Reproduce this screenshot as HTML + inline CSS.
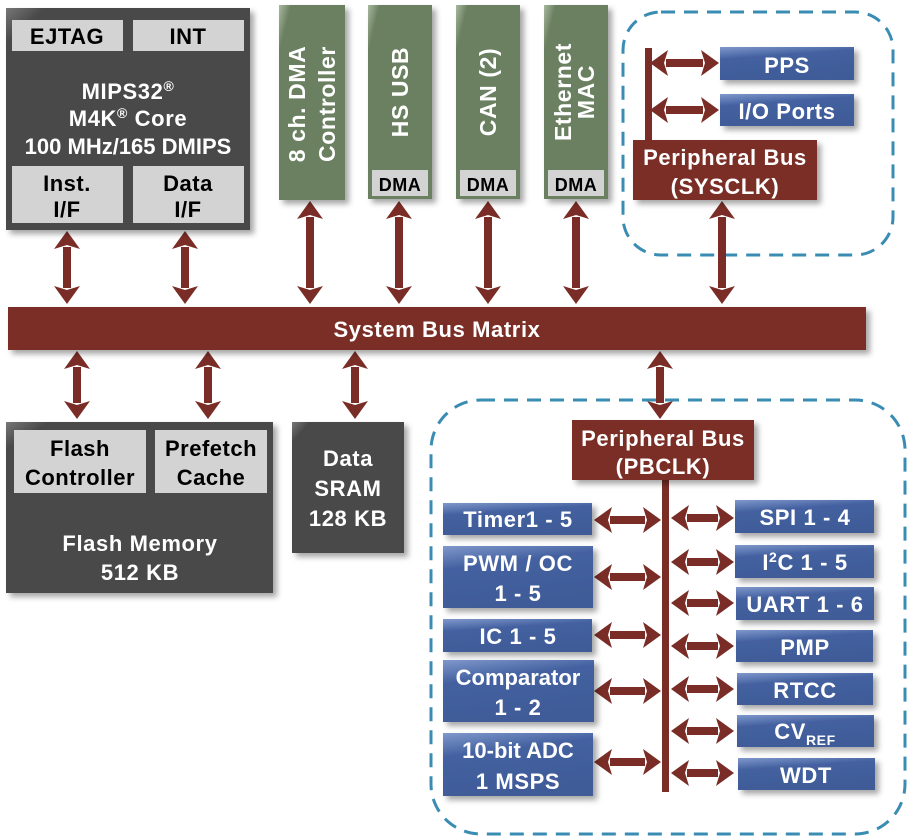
<!DOCTYPE html>
<html><head><meta charset="utf-8"><style>
html,body{margin:0;padding:0;background:#fff}
svg{display:block;font-family:"Liberation Sans",sans-serif;font-weight:bold}
</style></head><body>
<svg width="909" height="837" viewBox="0 0 909 837" xmlns="http://www.w3.org/2000/svg">
<defs>
<marker id="ah" viewBox="0 0 18 26" refX="2" refY="13" markerWidth="18" markerHeight="26" markerUnits="userSpaceOnUse" orient="auto-start-reverse">
<path d="M0,0 L18,13 L0,26 L4,13 Z" fill="#7a2d26"/>
</marker>
<linearGradient id="bl" x1="0" y1="0" x2="0.3" y2="1"><stop offset="0" stop-color="#7f98cc"/><stop offset="0.35" stop-color="#4461a0"/><stop offset="1" stop-color="#3f5b98"/></linearGradient>
<linearGradient id="gr" x1="0" y1="0" x2="0.4" y2="0.3"><stop offset="0" stop-color="#a9b9a0"/><stop offset="0.3" stop-color="#6b8060"/><stop offset="1" stop-color="#6b8060"/></linearGradient>
<linearGradient id="dk" x1="0" y1="0" x2="0.2" y2="0.2"><stop offset="0" stop-color="#777"/><stop offset="0.4" stop-color="#4a4a4a"/><stop offset="1" stop-color="#4a4a4a"/></linearGradient>
<filter id="sh" x="-10%" y="-10%" width="130%" height="130%"><feDropShadow dx="4" dy="4" stdDeviation="3" flood-color="#000" flood-opacity="0.35"/></filter>
</defs>

<rect x="623" y="12" width="270" height="243" rx="38" fill="none" stroke="#3a8cb3" stroke-width="3" stroke-dasharray="14,9"/>
<rect x="431" y="400" width="474" height="434" rx="50" fill="none" stroke="#3a8cb3" stroke-width="3" stroke-dasharray="14,9"/>

<g stroke="#7a2d26" stroke-width="8" marker-start="url(#ah)" marker-end="url(#ah)">
<line x1="67" y1="247" x2="67" y2="288"/>
<line x1="185" y1="247" x2="185" y2="288"/>
<line x1="310" y1="217" x2="310" y2="288"/>
<line x1="399" y1="217" x2="399" y2="288"/>
<line x1="488" y1="217" x2="488" y2="288"/>
<line x1="576" y1="217" x2="576" y2="288"/>
<line x1="722" y1="217" x2="722" y2="288"/>
<line x1="77" y1="367" x2="77" y2="403"/>
<line x1="208" y1="367" x2="208" y2="403"/>
<line x1="355" y1="367" x2="355" y2="403"/>
<line x1="660" y1="367" x2="660" y2="403"/>
<line x1="666" y1="63" x2="703" y2="63"/>
<line x1="666" y1="110" x2="703" y2="110"/>
<line x1="610" y1="520" x2="645" y2="520"/>
<line x1="610" y1="577" x2="645" y2="577"/>
<line x1="610" y1="635" x2="645" y2="635"/>
<line x1="610" y1="691" x2="645" y2="691"/>
<line x1="610" y1="762" x2="645" y2="762"/>
<line x1="687" y1="518" x2="718" y2="518"/>
<line x1="687" y1="562" x2="718" y2="562"/>
<line x1="687" y1="603" x2="718" y2="603"/>
<line x1="687" y1="646" x2="718" y2="646"/>
<line x1="687" y1="689" x2="718" y2="689"/>
<line x1="687" y1="731" x2="718" y2="731"/>
<line x1="687" y1="773" x2="718" y2="773"/>
</g>
<rect x="645" y="48" width="7" height="95" fill="#7a2d26"/>
<rect x="662" y="480" width="7" height="312" fill="#7a2d26"/>

<g filter="url(#sh)">
<rect x="6" y="8" width="244" height="222" fill="url(#dk)"/>
<rect x="279" y="5" width="66" height="195" fill="url(#gr)"/>
<rect x="368" y="5" width="64" height="194" fill="url(#gr)"/>
<rect x="456" y="5" width="64" height="194" fill="url(#gr)"/>
<rect x="544" y="5" width="64" height="194" fill="url(#gr)"/>
<rect x="633" y="140" width="184" height="60" fill="#7a2d26"/>
<rect x="720" y="47" width="134" height="33" fill="url(#bl)"/>
<rect x="720" y="94" width="134" height="32" fill="url(#bl)"/>
<rect x="8" y="307" width="858" height="43" fill="#7a2d26"/>
<rect x="6" y="422" width="267" height="171" fill="url(#dk)"/>
<rect x="292" y="422" width="112" height="131" fill="url(#dk)"/>
<rect x="572" y="420" width="182" height="60" fill="#7a2d26"/>
<rect x="443" y="503" width="149" height="32" fill="url(#bl)"/>
<rect x="443" y="546" width="150" height="62" fill="url(#bl)"/>
<rect x="443" y="619" width="149" height="33" fill="url(#bl)"/>
<rect x="443" y="660" width="151" height="62" fill="url(#bl)"/>
<rect x="443" y="733" width="150" height="63" fill="url(#bl)"/>
<rect x="735" y="500" width="139" height="33" fill="url(#bl)"/>
<rect x="735" y="545" width="139" height="33" fill="url(#bl)"/>
<rect x="736" y="587" width="138" height="33" fill="url(#bl)"/>
<rect x="736" y="630" width="137" height="32" fill="url(#bl)"/>
<rect x="737" y="673" width="136" height="32" fill="url(#bl)"/>
<rect x="737" y="715" width="137" height="32" fill="url(#bl)"/>
<rect x="738" y="758" width="137" height="32" fill="url(#bl)"/>
</g>

<g fill="#d3d3d3">
<rect x="12" y="20" width="111" height="31"/>
<rect x="133" y="20" width="111" height="31"/>
<rect x="12" y="166" width="111" height="57"/>
<rect x="133" y="166" width="111" height="57"/>
<rect x="372" y="170" width="56" height="26"/>
<rect x="460" y="170" width="56" height="26"/>
<rect x="548" y="170" width="56" height="26"/>
<rect x="14" y="430" width="132" height="63"/>
<rect x="155" y="430" width="112" height="63"/>
</g>

<g fill="#000" text-anchor="middle" font-size="22" letter-spacing="0.5">
<text x="67" y="44">EJTAG</text>
<text x="188" y="44">INT</text>
<text x="67" y="191">Inst.</text><text x="67" y="217">I/F</text>
<text x="188" y="191">Data</text><text x="188" y="217">I/F</text>
<text x="400" y="191" font-size="18">DMA</text>
<text x="488" y="191" font-size="18">DMA</text>
<text x="576" y="191" font-size="18">DMA</text>
<text x="80" y="456">Flash</text><text x="80" y="485">Controller</text>
<text x="211" y="456">Prefetch</text><text x="211" y="485">Cache</text>
</g>

<g fill="#fff" text-anchor="middle" font-size="22" letter-spacing="0.6">
<text x="128" y="99">MIPS32<tspan font-size="14" dy="-8">®</tspan></text>
<text x="128" y="126">M4K<tspan font-size="14" dy="-8">®</tspan><tspan dy="8"> Core</tspan></text>
<text x="128" y="154" letter-spacing="0">100 MHz/165 DMIPS</text>
<text transform="translate(305,104) rotate(-90)" font-size="23">8 ch. DMA</text>
<text transform="translate(335,104) rotate(-90)" font-size="23">Controller</text>
<text transform="translate(408,92) rotate(-90)" font-size="23">HS USB</text>
<text transform="translate(496,92) rotate(-90)" font-size="23">CAN (2)</text>
<text transform="translate(571,92) rotate(-90)" font-size="23">Ethernet</text>
<text transform="translate(594,92) rotate(-90)" font-size="23">MAC</text>
<text x="787" y="73">PPS</text>
<text x="787" y="119">I/O Ports</text>
<text x="725" y="165">Peripheral Bus</text>
<text x="725" y="194">(SYSCLK)</text>
<text x="437" y="337">System Bus Matrix</text>
<text x="140" y="551">Flash Memory</text>
<text x="140" y="580">512 KB</text>
<text x="348" y="466">Data</text>
<text x="348" y="496">SRAM</text>
<text x="348" y="526">128 KB</text>
<text x="663" y="446">Peripheral Bus</text>
<text x="663" y="474">(PBCLK)</text>
<text x="518" y="527">Timer1 - 5</text>
<text x="518" y="571">PWM / OC</text><text x="518" y="601">1 - 5</text>
<text x="518" y="644">IC 1 - 5</text>
<text x="518" y="685" letter-spacing="0">Comparator</text><text x="518" y="715">1 - 2</text>
<text x="518" y="758" letter-spacing="0">10-bit ADC</text><text x="518" y="789">1 MSPS</text>
<text x="805" y="525">SPI 1 - 4</text>
<text x="805" y="570">I<tspan font-size="14" dy="-8">2</tspan><tspan dy="8">C 1 - 5</tspan></text>
<text x="805" y="612">UART 1 - 6</text>
<text x="805" y="655">PMP</text>
<text x="805" y="698">RTCC</text>
<text x="805" y="739">CV<tspan font-size="14" dy="6">REF</tspan></text>
<text x="806" y="783">WDT</text>
</g>
</svg>
</body></html>
